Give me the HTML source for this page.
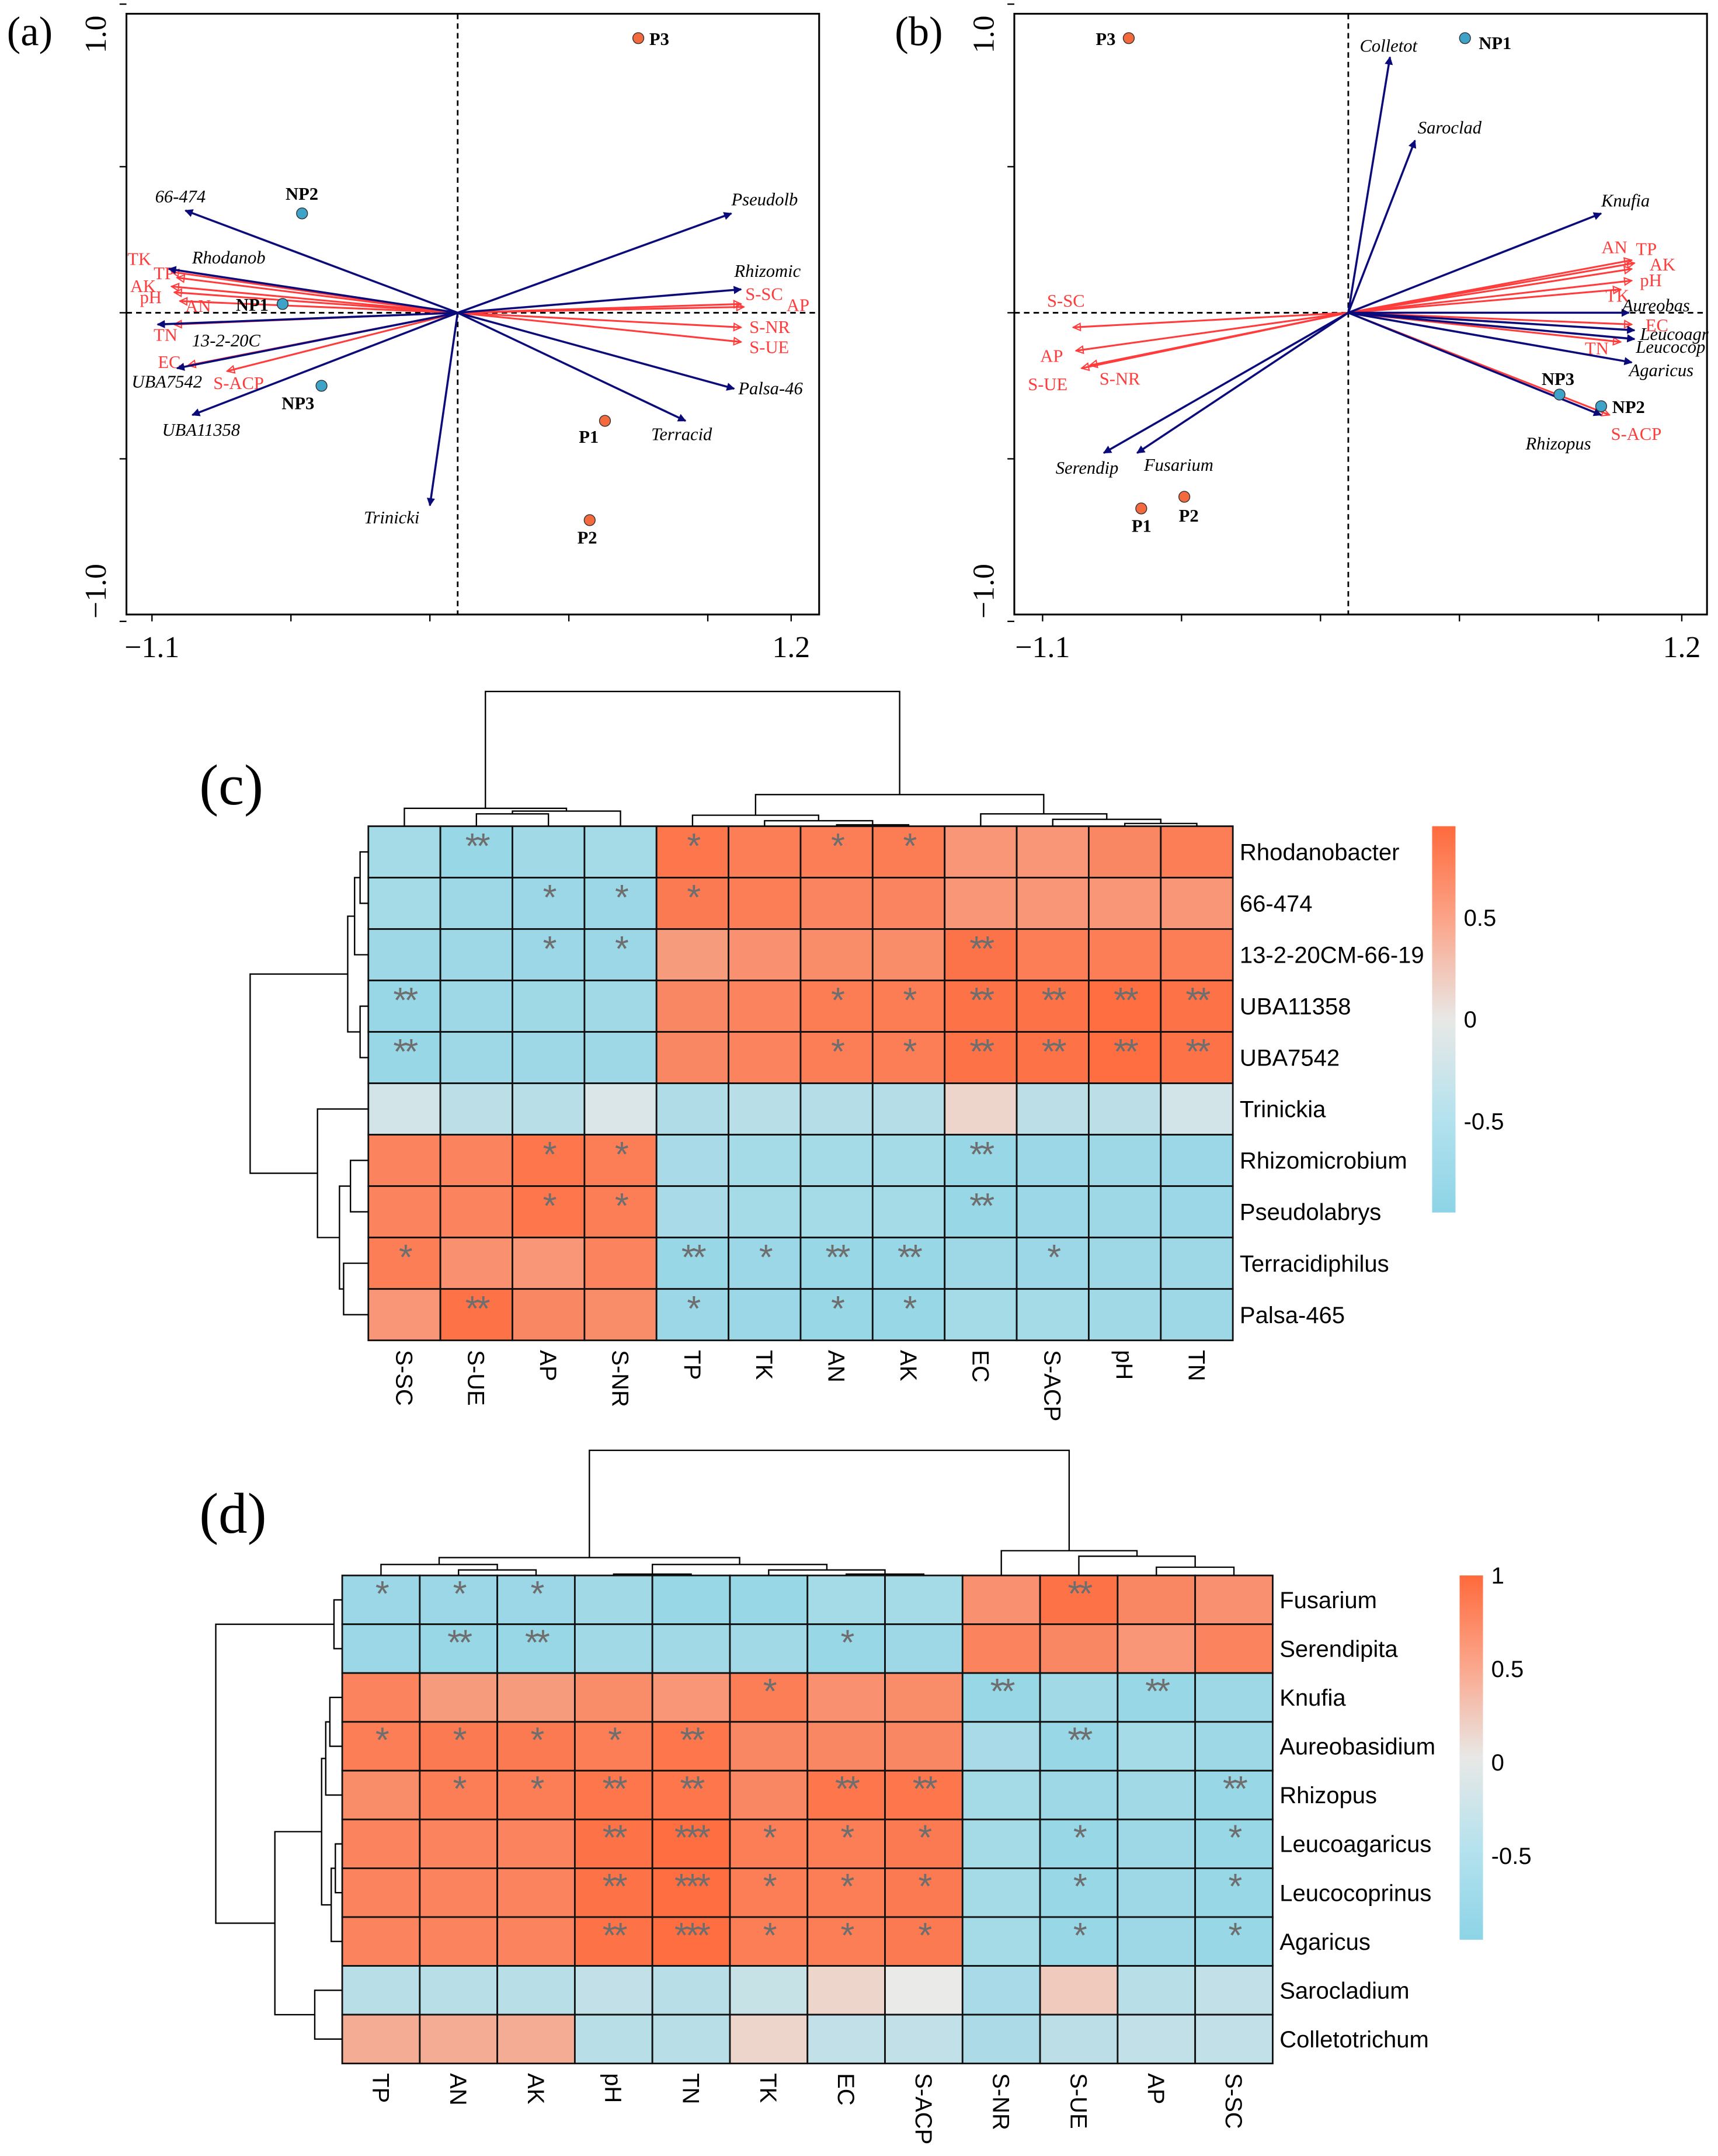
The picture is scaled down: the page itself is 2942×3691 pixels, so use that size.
<!DOCTYPE html>
<html><head><meta charset="utf-8"><style>
html,body{margin:0;padding:0;background:#fff;overflow:hidden;}
svg{display:block;}
</style></head><body>
<svg id="fig" xmlns="http://www.w3.org/2000/svg" width="2942" height="3691" viewBox="0 0 1250 1568.3" preserveAspectRatio="none">
<defs>
<marker id="mb" viewBox="0 0 10 10" refX="9" refY="5" markerWidth="4" markerHeight="4" orient="auto"><path d="M0,0L10,5L0,10z" fill="#0a0a7a"/></marker>
<marker id="mr" viewBox="0 0 10 10" refX="9" refY="5" markerWidth="5" markerHeight="5" orient="auto"><path d="M1,1L9,5L1,9z" fill="none" stroke="#ff3b3b" stroke-width="1.3"/></marker>
<linearGradient id="gc" x1="0" y1="0" x2="0" y2="1"><stop offset="0" stop-color="#ff6a3c"/><stop offset="0.25" stop-color="#fba68c"/><stop offset="0.5" stop-color="#e8e8e6"/><stop offset="0.75" stop-color="#b5e2ee"/><stop offset="1" stop-color="#8cd4e6"/></linearGradient>
</defs>
<g id="root"></g>
</svg>
<script>
// ---------- Panel (a) data ----------
const aSpecies=["66-474","Rhodanob","Pseudolb","Rhizomic","Palsa-46","Terracid","Trinicki","UBA11358","13-2-20C","UBA7542"];
const aSpX=[-0.98,-1.04,0.985,1.02,0.995,0.82,-0.10,-0.955,-1.08,-1.01];
const aSpY=[0.35,0.15,0.34,0.08,-0.26,-0.37,-0.66,-0.35,-0.04,-0.19];
const aEnv=["TK","TP","AK","pH","AN","TN","EC","S-ACP","S-SC","AP","S-NR","S-UE"];
const aEnvX=[-1.03,-1.01,-1.03,-1.02,-1.0,-1.02,-0.97,-0.83,1.02,1.03,1.02,1.02];
const aEnvY=[0.14,0.12,0.09,0.07,0.04,-0.04,-0.18,-0.2,0.03,0.02,-0.05,-0.1];
const aSites=["P3","NP2","NP1","NP3","P1","P2"];
const aSiteX=[0.65,-0.56,-0.63,-0.49,0.53,0.475];
const aSiteY=[0.94,0.34,0.03,-0.25,-0.37,-0.71];
// label offsets (style)
const aSpLab=[[-22,-6],[17,-4],[0,-6],[-5,-9],[3,4],[-25,14],[-48,13],[-22,15],[25,16],[-33,14]];
const aEnvLab=[[-32,-5],[-17,1],[-30,4],[-25,8],[4,8],[-15,12],[-22,2],[-10,13],[3,-3],[31,3],[6,4],[6,8]];
const aSiteLab=[[8,5],[-12,-10],[-34,5],[-29,17],[-19,16],[-9,17]];
// ---------- Panel (b) data ----------
const bSpecies=["Colletot","Saroclad","Knufia","Aureobas","Leucoagr","Leucocop","Agaricus","Rhizopus","Serendip","Fusarium"];
const bSpX=[0.15,0.24,0.91,1.01,1.03,1.03,1.02,0.91,-0.88,-0.76];
const bSpY=[0.875,0.59,0.34,0.0,-0.06,-0.09,-0.17,-0.35,-0.48,-0.48];
const bEnv=["AN","TP","AK","pH","TK","EC","TN","S-ACP","S-SC","AP","S-UE","S-NR"];
const bEnvX=[1.02,1.03,1.02,1.02,0.98,1.02,0.98,0.94,-0.99,-0.98,-0.96,-0.93];
const bEnvY=[0.18,0.17,0.15,0.11,0.08,-0.04,-0.1,-0.35,-0.05,-0.13,-0.19,-0.18];
const bSites=["P3","NP1","NP3","NP2","P1","P2"];
const bSiteX=[-0.79,0.42,0.76,0.91,-0.745,-0.59];
const bSiteY=[0.94,0.94,-0.28,-0.32,-0.67,-0.63];
const bSpLab=[[-22,-4],[2,-5],[0,-5],[-5,-1],[4,7],[1,10],[-2,10],[-55,25],[-35,15],[5,13]];
const bEnvLab=[[-22,-5],[1,-6],[13,1],[6,4],[-11,9],[10,5],[-26,9],[1,18],[-19,-15],[-26,8],[-39,16],[7,14]];
const bSiteLab=[[-24,5],[10,8],[-13,-7],[8,5],[-7,17],[-4,18]];
const sitePoor=["P3","P1","P2"];
// ---------- Heatmap (c) data ----------
const cRows=["Rhodanobacter","66-474","13-2-20CM-66-19","UBA11358","UBA7542","Trinickia","Rhizomicrobium","Pseudolabrys","Terracidiphilus","Palsa-465"];
const cCols=["S-SC","S-UE","AP","S-NR","TP","TK","AN","AK","EC","S-ACP","pH","TN"];
const cVals=[
[-0.6,-0.8,-0.65,-0.6,0.85,0.75,0.75,0.78,0.5,0.5,0.65,0.75],
[-0.6,-0.7,-0.75,-0.75,0.8,0.75,0.68,0.68,0.5,0.5,0.5,0.5],
[-0.7,-0.7,-0.75,-0.75,0.45,0.55,0.6,0.6,0.88,0.75,0.75,0.75],
[-0.8,-0.7,-0.68,-0.65,0.65,0.7,0.78,0.78,0.9,0.9,0.95,0.9],
[-0.8,-0.7,-0.7,-0.7,0.65,0.7,0.75,0.75,0.9,0.9,0.95,0.9],
[-0.1,-0.3,-0.35,-0.05,-0.45,-0.35,-0.4,-0.4,0.05,-0.3,-0.3,-0.1],
[0.7,0.7,0.85,0.75,-0.55,-0.6,-0.6,-0.6,-0.8,-0.75,-0.7,-0.75],
[0.7,0.7,0.85,0.75,-0.55,-0.6,-0.6,-0.6,-0.8,-0.75,-0.7,-0.75],
[0.75,0.55,0.5,0.7,-0.8,-0.75,-0.8,-0.8,-0.7,-0.75,-0.7,-0.7],
[0.5,0.9,0.65,0.6,-0.75,-0.75,-0.8,-0.8,-0.6,-0.6,-0.65,-0.7]];
const cStars=[
["","**","","","*","","*","*","","","",""],
["","","*","*","*","","","","","","",""],
["","","*","*","","","","","**","","",""],
["**","","","","","","*","*","**","**","**","**"],
["**","","","","","","*","*","**","**","**","**"],
["","","","","","","","","","","",""],
["","","*","*","","","","","**","","",""],
["","","*","*","","","","","**","","",""],
["*","","","","**","*","**","**","","*","",""],
["","**","","","*","","*","*","","","",""]];
const cTicks=["0.5","0","-0.5"];
const cTickVals=[0.5,0,-0.5];
// ---------- Heatmap (d) data ----------
const dRows=["Fusarium","Serendipita","Knufia","Aureobasidium","Rhizopus","Leucoagaricus","Leucocoprinus","Agaricus","Sarocladium","Colletotrichum"];
const dCols=["TP","AN","AK","pH","TN","TK","EC","S-ACP","S-NR","S-UE","AP","S-SC"];
const dVals=[
[-0.75,-0.75,-0.75,-0.65,-0.8,-0.8,-0.6,-0.6,0.55,0.9,0.65,0.55],
[-0.75,-0.8,-0.8,-0.65,-0.65,-0.65,-0.8,-0.7,0.7,0.65,0.5,0.7],
[0.7,0.45,0.45,0.6,0.5,0.75,0.55,0.6,-0.8,-0.65,-0.8,-0.7],
[0.75,0.8,0.8,0.75,0.85,0.65,0.65,0.65,-0.55,-0.8,-0.6,-0.7],
[0.6,0.75,0.75,0.85,0.85,0.65,0.85,0.85,-0.6,-0.7,-0.65,-0.8],
[0.7,0.7,0.7,0.9,0.95,0.75,0.75,0.8,-0.6,-0.8,-0.7,-0.8],
[0.7,0.7,0.7,0.9,0.95,0.75,0.75,0.8,-0.6,-0.8,-0.7,-0.8],
[0.7,0.7,0.7,0.9,0.95,0.75,0.75,0.8,-0.6,-0.8,-0.7,-0.8],
[-0.35,-0.35,-0.35,-0.25,-0.35,-0.2,0.05,0.0,-0.55,0.1,-0.35,-0.25],
[0.3,0.3,0.3,-0.35,-0.35,0.05,-0.25,-0.25,-0.5,-0.3,-0.25,-0.25]];
const dStars=[
["*","*","*","","","","","","","**","",""],
["","**","**","","","","*","","","","",""],
["","","","","","*","","","**","","**",""],
["*","*","*","*","**","","","","","**","",""],
["","*","*","**","**","","**","**","","","","**"],
["","","","**","***","*","*","*","","*","","*"],
["","","","**","***","*","*","*","","*","","*"],
["","","","**","***","*","*","*","","*","","*"],
["","","","","","","","","","","",""],
["","","","","","","","","","","",""]];
const dTicks=["1","0.5","0","-0.5"];
const dTickVals=[1,0.5,0,-0.5];

const NS="http://www.w3.org/2000/svg";
const root=document.getElementById('root');
function mk(tag,attrs,parent,text){const e=document.createElementNS(NS,tag);for(const k in attrs)e.setAttribute(k,attrs[k]);if(text!==undefined)e.textContent=text;(parent||root).appendChild(e);return e;}
function col(v){
  const z=[234,234,232],p=[255,106,60],n=[140,212,230];
  const t=Math.pow(Math.min(1,Math.abs(v)),0.6),c=v>=0?p:n;
  const r=z.map((a,i)=>Math.round(a+(c[i]-a)*t));
  return `rgb(${r[0]},${r[1]},${r[2]})`;
}
const SERIF='"Liberation Serif", serif', SANS='"Liberation Sans", sans-serif';

// ---------- biplot ----------
function biplot(o){
  const g=mk('g',{});
  
  
  const sx=v=>o.ox+v*202.2, sy=v=>227.5-v*212.5;
  const fr=mk('rect',{x:o.bx,y:10,width:504,height:437,fill:'none',stroke:'#000','stroke-width':1.3},g);
  
  const vl=mk('line',{x1:sx(0),y1:10,x2:sx(0),y2:447,stroke:'#000','stroke-dasharray':'4,3','stroke-width':1.2},g);
  
  const hl=mk('line',{x1:o.bx,y1:sy(0),x2:o.bx+504,y2:sy(0),stroke:'#000','stroke-dasharray':'4,3','stroke-width':1.2},g);
  
  [1,0.5,0,-0.5,-1].forEach(v=>{const yy=sy(v)-(v==1?12:v==-1?-12:0);const t=mk('line',{x1:o.bx-5,y1:yy,x2:o.bx,y2:yy,stroke:'#000'},g);});
  [-1.1,-0.6,-0.1,0.4,0.9,1.2].forEach(v=>{const t=mk('line',{x1:sx(v),y1:447,x2:sx(v),y2:452,stroke:'#000'},g);});
  let t=mk('text',{x:sx(-1.1),y:478,'font-family':SERIF,'font-size':22,'text-anchor':'middle'},g,'\u22121.1');
  t=mk('text',{x:sx(1.2),y:478,'font-family':SERIF,'font-size':22,'text-anchor':'middle'},g,'1.2');
  t=mk('text',{x:0,y:0,'font-family':SERIF,'font-size':22,'text-anchor':'middle',transform:`translate(${o.bx-15},${sy(1)+10}) rotate(-90)`},g,'1.0');
  t=mk('text',{x:0,y:0,'font-family':SERIF,'font-size':22,'text-anchor':'middle',transform:`translate(${o.bx-15},${sy(-1)-10}) rotate(-90)`},g,'\u22121.0');
  t=mk('text',{x:o.bx-87,y:33,'font-family':SERIF,'font-size':30},g,o.label);
  o.env.forEach((n,i)=>{
    const x=sx(o.envX[i]),y=sy(o.envY[i]);
    const a=mk('line',{x1:sx(0),y1:sy(0),x2:x,y2:y,stroke:'#ff3b3b','stroke-width':1.3,'marker-end':'url(#mr)'},g);
    
    const l=mk('text',{x:x+o.envLab[i][0],y:y+o.envLab[i][1],'font-family':SERIF,'font-size':13,fill:'#ff3b3b'},g,n);
    
  });
  o.sp.forEach((n,i)=>{
    const x=sx(o.spX[i]),y=sy(o.spY[i]);
    const a=mk('line',{x1:sx(0),y1:sy(0),x2:x,y2:y,stroke:'#0a0a7a','stroke-width':1.5,'marker-end':'url(#mb)'},g);
    
    const l=mk('text',{x:x+o.spLab[i][0],y:y+o.spLab[i][1],'font-family':SERIF,'font-style':'italic','font-size':13},g,n);
    
  });
  o.sites.forEach((n,i)=>{
    const x=sx(o.siteX[i]),y=sy(o.siteY[i]);
    const c=mk('circle',{cx:x,cy:y,r:4,fill:sitePoor.includes(n)?'#f26a3d':'#3fa2c9',stroke:'#333','stroke-width':0.6},g);
    
    const l=mk('text',{x:x+o.siteLab[i][0],y:y+o.siteLab[i][1],'font-family':SERIF,'font-weight':'bold','font-size':13},g,n);
    
  });
}
biplot({name:'rda-panel-a',label:'(a)',bx:92,ox:333,sp:aSpecies,spX:aSpX,spY:aSpY,env:aEnv,envX:aEnvX,envY:aEnvY,sites:aSites,siteX:aSiteX,siteY:aSiteY,spLab:aSpLab,envLab:aEnvLab,siteLab:aSiteLab});
biplot({name:'rda-panel-b',label:'(b)',bx:738,ox:981,sp:bSpecies,spX:bSpX,spY:bSpY,env:bEnv,envX:bEnvX,envY:bEnvY,sites:bSites,siteX:bSiteX,siteY:bSiteY,spLab:bSpLab,envLab:bEnvLab,siteLab:bSiteLab});

// ---------- heatmap ----------
function dendroTop(g,node,cx,base){
  if(typeof node==='number') return {p:cx(node),h:base};
  const a=dendroTop(g,node[0],cx,base),b=dendroTop(g,node[1],cx,base),h=node[2];
  mk('path',{d:`M${a.p},${a.h}V${h}H${b.p}V${b.h}`,fill:'none',stroke:'#000','stroke-width':1},g);
  return {p:(a.p+b.p)/2,h:h};
}
function dendroLeft(g,node,cy,base){
  if(typeof node==='number') return {p:cy(node),h:base};
  const a=dendroLeft(g,node[0],cy,base),b=dendroLeft(g,node[1],cy,base),h=node[2];
  mk('path',{d:`M${a.h},${a.p}H${h}V${b.p}H${b.h}`,fill:'none',stroke:'#000','stroke-width':1},g);
  return {p:(a.p+b.p)/2,h:h};
}
function heatmap(o){
  const g=mk('g',{});
  
  
  const cw=(o.x1-o.x0)/o.cols.length, rh=(o.y1-o.y0)/o.rows.length;
  const cx=j=>o.x0+cw*(j+0.5), cy=i=>o.y0+rh*(i+0.5);
  o.vals.forEach((row,i)=>row.forEach((v,j)=>{
    const r=mk('rect',{x:o.x0+cw*j,y:o.y0+rh*i,width:cw,height:rh,fill:col(v),stroke:'#111','stroke-width':1.2},g);
    
    const s=o.stars[i][j];
    if(s){const t=mk('text',{x:cx(j),y:o.y0+rh*i+rh*0.62,'font-family':SANS,'font-size':26,fill:'#6e6e6e','text-anchor':'middle','letter-spacing':'-2'},g,s);
      }
  }));
  o.rows.forEach((n,i)=>{const t=mk('text',{x:o.x1+5,y:cy(i)+6,'font-family':SANS,'font-size':17},g,n);});
  o.cols.forEach((n,j)=>{const t=mk('text',{x:0,y:0,'font-family':SANS,'font-size':17,transform:`translate(${cx(j)-6},${o.y1+7}) rotate(90)`},g,n);});
  const dt=mk('g',{},g);
  dendroTop(dt,o.topTree,cx,o.y0);
  const dl=mk('g',{},g);
  dendroLeft(dl,o.leftTree,cy,o.x0);
  const cb=mk('rect',{x:o.cbx,y:o.cby0,width:17,height:o.cby1-o.cby0,fill:'url(#gc)'},g);
  
  const vy=v=>o.cby0+(o.vmax-v)/(o.vmax-o.vmin)*(o.cby1-o.cby0);
  o.ticks.forEach((n,k)=>{const t=mk('text',{x:o.cbx+23,y:vy(o.tickVals[k])+6,'font-family':SANS,'font-size':17},g,n);});
  const L=mk('text',{x:145,y:o.labelY,'font-family':SERIF,'font-size':42},g,o.label);
}
heatmap({name:'heatmap-c',label:'(c)',labelY:585,rows:cRows,cols:cCols,vals:cVals,stars:cStars,x0:268,x1:897,y0:601,y1:975,
  topTree:[[0,[[1,2,592],3,590],588],[[4,[5,[6,7,600],597],593],[8,[9,[10,11,599],596],592],578],503],
  leftTree:[[[[0,1,262],2,258],[3,4,262],253],[5,[[6,7,255],[8,9,250],247],231],182],
  cbx:1042,cby0:601,cby1:882,vmax:0.95,vmin:-0.95,ticks:cTicks,tickVals:cTickVals});
heatmap({name:'heatmap-d',label:'(d)',labelY:1115,rows:dRows,cols:dCols,vals:dVals,stars:dStars,x0:249,x1:926,y0:1146,y1:1501,
  topTree:[[[0,[1,2,1142],1138],[[3,4,1145],[5,[6,7,1145],1142],1138],1133],[8,[9,[10,11,1140],1132],1128],1055],
  leftTree:[[0,1,243],[[[[2,3,240],4,237],[[5,6,244],7,241],234],[8,9,229],200],157],
  cbx:1062,cby0:1146,cby1:1411,vmax:1,vmin:-0.95,ticks:dTicks,tickVals:dTickVals});
</script>
</body></html>
